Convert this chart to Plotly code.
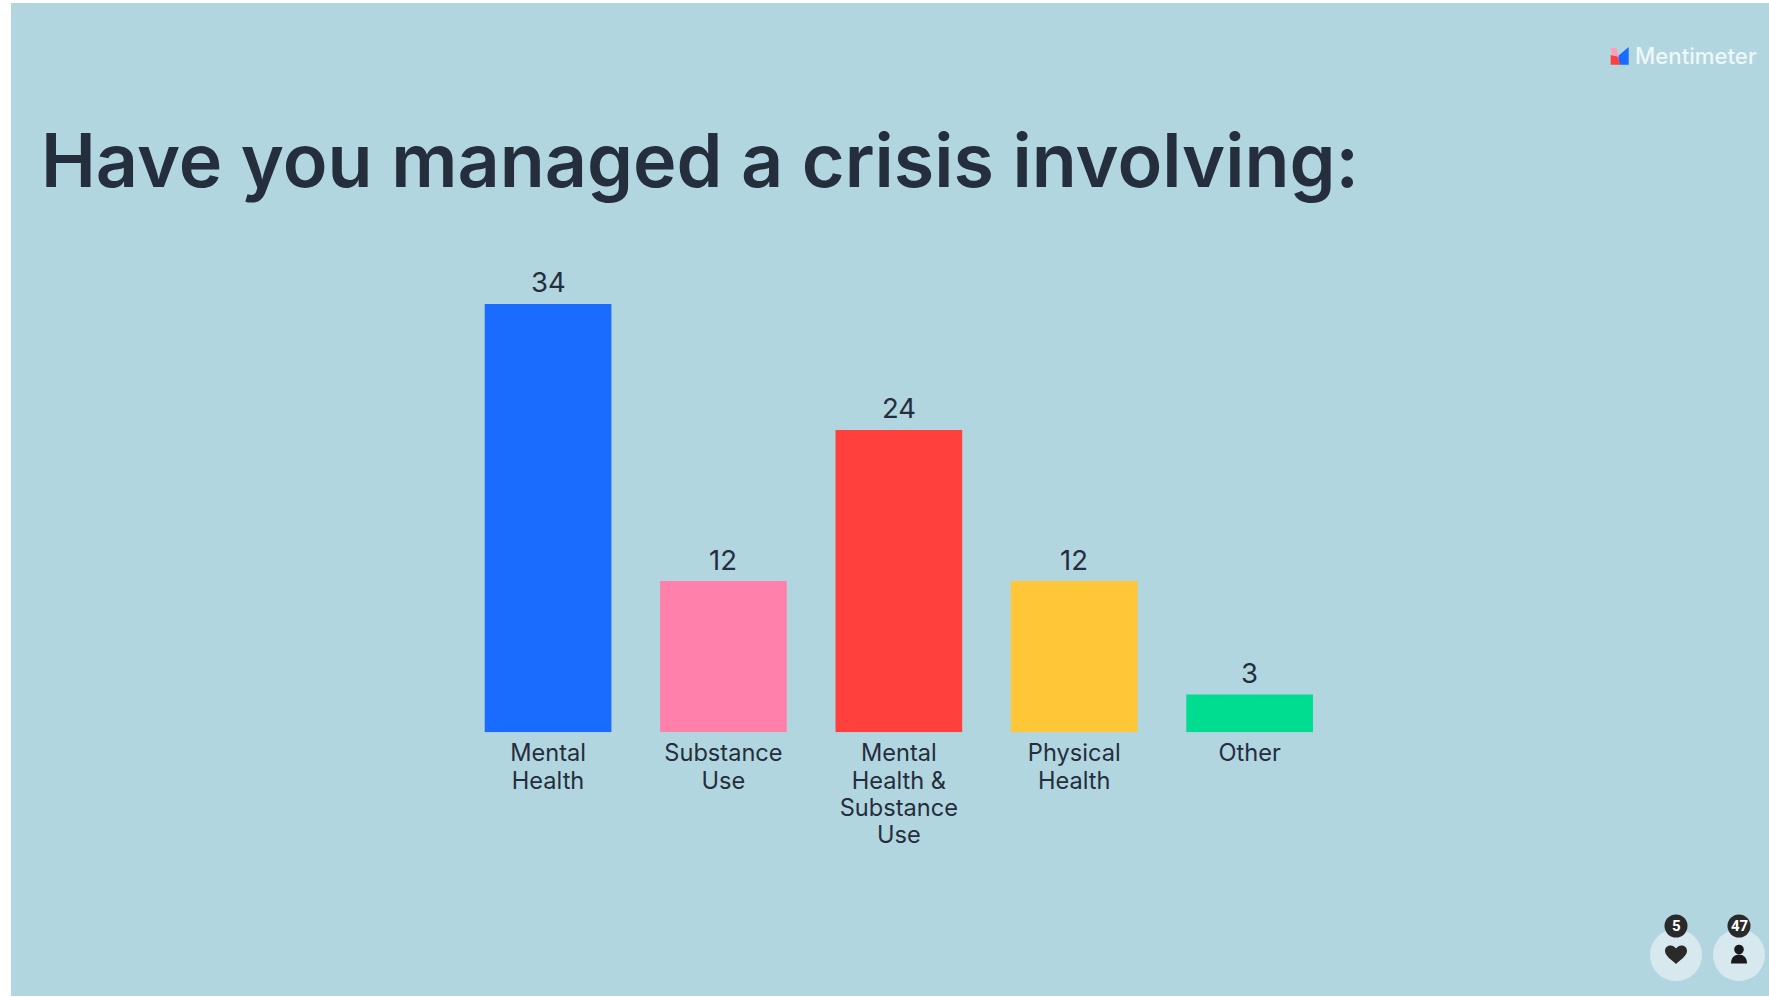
import plotly.graph_objects as go

W, H = 1769, 997

categories = [["Mental", "Health"], ["Substance", "Use"], ["Mental", "Health &", "Substance", "Use"], ["Physical", "Health"], ["Other"]]
responses = [34, 12, 24, 12, 3]
bar_colors = ["#196CFF", "#FF80AB", "#FF403D", "#FFC738", "#00DC90"]
title_text = "Have you managed a crisis involving:"
brand_text = "Mentimeter"
reactions = "5"
participants = "47"

INK = "#252E3D"
BACKDROP = "#B2D6DF"
BADGE = "#D7E9EF"
BADGE_DARK = "#2A2A2A"
LABEL_PX = 23.6


def fx(x):
    return x / W


def fy(y):
    return 1 - y / H


def rect(x0, y0, x1, y1, color):
    return dict(type="rect", xref="paper", yref="paper", x0=fx(x0), x1=fx(x1), y0=fy(y1), y1=fy(y0),
                fillcolor=color, line_width=0, layer="below")


def circle(cx, cy, r, color, layer="below"):
    return dict(type="circle", xref="paper", yref="paper", x0=fx(cx - r), x1=fx(cx + r), y0=fy(cy + r), y1=fy(cy - r),
                fillcolor=color, line_width=0, layer=layer)


def glyph(cx, cy, path, color):
    # Icon outlines are given in pixels around an anchor point, y pointing up
    return dict(type="path", xref="paper", yref="paper", xsizemode="pixel", ysizemode="pixel",
                xanchor=fx(cx), yanchor=fy(cy), path=path, fillcolor=color, line_width=0, layer="above")


def tick_label(lines):
    # Axis font sets the line pitch; the span sets the glyph size
    return "<br>".join(f'<span style="font-size:{LABEL_PX}px">{line}</span>' for line in lines)


shapes = [
    rect(11, 3, W, 996, BACKDROP),
    circle(1676, 955, 26, BADGE),
    circle(1739, 955, 26, BADGE),
    circle(1676, 926, 11.5, BADGE_DARK, "above"),
    circle(1739, 926, 11.5, BADGE_DARK, "above"),
    # heart
    glyph(1676, 955, "M 0 -9 C -4 -5 -11 -1 -11 4 C -11 8 -8 9.5 -5.5 9.5 C -3 9.5 -1 8 0 6.5 "
                     "C 1 8 3 9.5 5.5 9.5 C 8 9.5 11 8 11 4 C 11 -1 4 -5 0 -9 Z", BADGE_DARK),
    # person
    circle(1739, 949.5, 4.8, "#1A1A1A", "above"),
    glyph(1739, 955, "M -8 -8.5 L 8 -8.5 C 8 -3 5 0.5 0 0.5 C -5 0.5 -8 -3 -8 -8.5 Z", "#1A1A1A"),
    # brand mark
    glyph(1620, 56, "M 8.7 9 L 8.7 -8.7 L -0.5 -8.7 L -2 0 Z", "#196CFF"),
    glyph(1620, 56, "M -9.3 8 L -4 8.5 L -1 -1 L -8.5 2 Z", "#FF9DBC"),
    glyph(1620, 56, "M -9.3 1 L -2.5 -0.5 L 0.5 -8.7 L -9.3 -8.7 Z", "#FF403D"),
]

tick_labels = [tick_label(lines) for lines in categories]

annotations = [
    dict(text=title_text, xref="paper", yref="paper", x=fx(38.5), y=fy(161), xanchor="left", yanchor="middle",
         showarrow=False, font=dict(family="Inter", size=73.6, color=INK, weight=600)),
    dict(text=brand_text, xref="paper", yref="paper", x=fx(1633), y=fy(56), xanchor="left", yanchor="middle",
         showarrow=False, font=dict(family="Inter", size=22.2, color="#EEF7F9", weight=500)),
    dict(text=reactions, xref="paper", yref="paper", x=fx(1676), y=fy(926), xanchor="center", yanchor="middle",
         showarrow=False, font=dict(family="Roboto", size=15, color="white", weight=700)),
    dict(text=participants, xref="paper", yref="paper", x=fx(1739), y=fy(926), xanchor="center", yanchor="middle",
         showarrow=False, font=dict(family="Roboto", size=15, color="white", weight=700)),
]

# Value labels sit a fixed distance above each bar top
annotations += [
    dict(text=str(value), x=label, y=value, xref="x", yref="y", yanchor="middle", yshift=21.5,
         showarrow=False, font=dict(family="Inter", size=27.5, color=INK))
    for label, value in zip(tick_labels, responses)
]

fig = go.Figure(go.Bar(
    x=tick_labels,
    y=responses,
    marker=dict(color=bar_colors, line_width=0),
))

fig.update_layout(
    width=W,
    height=H,
    autosize=False,
    margin=dict(l=0, r=0, t=0, b=0),
    paper_bgcolor="white",
    plot_bgcolor="rgba(0,0,0,0)",
    bargap=0.2777,
    showlegend=False,
    shapes=shapes,
    annotations=annotations,
    xaxis=dict(
        domain=[fx(460.35), fx(1337.35)],
        showgrid=False, showline=False, zeroline=False,
        ticks="", ticklabelstandoff=7,
        tickangle=0,
        tickfont=dict(family="Inter", size=21, color=INK),
    ),
    yaxis=dict(
        domain=[fy(732.3), fy(228.3)],
        range=[0, 40],
        visible=False,
    ),
)

fig.write_html("out.html")
